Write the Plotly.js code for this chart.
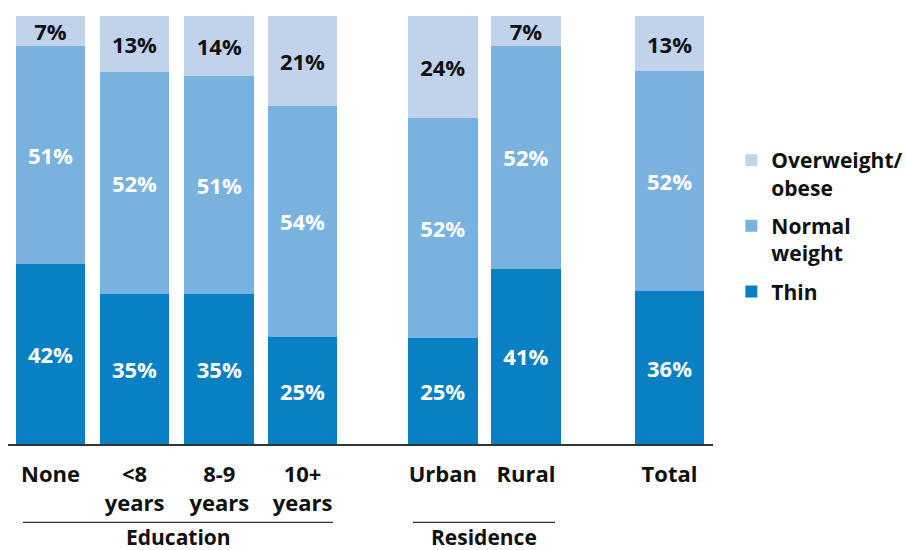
<!DOCTYPE html>
<html>
<head>
<meta charset="utf-8">
<script src="https://cdn.plot.ly/plotly-3.0.1.min.js"></script>
<style>html,body{margin:0;padding:0;background:#fff;}#chart{width:906px;height:550px;}</style>
</head>
<body>
<div id="chart"></div>
<script>
const categories = ['None', '<8<br>years', '8-9<br>years', '10+<br>years', 'Urban', 'Rural', 'Total'];
const xPos = [0, 1, 2.01, 3, 4.67, 5.66, 7.37];
const thin = [42, 35, 35, 25, 25, 41, 36];
const normal = [51, 52, 51, 54, 52, 52, 52];
const overweight = [7, 13, 14, 21, 24, 7, 13];
const seriesNames = ['Thin', 'Normal<br>weight', 'Overweight/<br>obese'];
const groups = ['Education', 'Residence'];

const FONT = 'Open Sans, DejaVu Sans, sans-serif';
const colors = ['#0a80c4', '#79b2de', '#c1d2eb'];
const textColors = ['#ffffff', '#ffffff', '#111111'];
const series = [thin, normal, overweight];

const traces = series.map((vals, i) => ({
  type: 'bar',
  name: seriesNames[i],
  legendgroup: 'g' + i,
  legendrank: 3 - i,
  x: xPos,
  y: vals,
  width: 0.83,
  marker: {color: colors[i], line: {width: 0}},
  text: vals.map(v => v + '%'),
  texttemplate: '%{text}',
  textposition: 'inside',
  insidetextanchor: 'middle',
  textangle: 0,
  textfont: {family: FONT, size: 22, color: textColors[i], weight: 700},
  hoverinfo: 'skip'
}));

const layout = {
  width: 906, height: 550,
  margin: {l: 8, r: 193, t: 16, b: 105.5, autoexpand: false},
  barmode: 'stack',
  barnorm: 'percent',
  uniformtext: {mode: 'show', minsize: 22},
  paper_bgcolor: '#fff', plot_bgcolor: '#fff',
  font: {family: FONT, color: '#111', weight: 700},
  showlegend: true,
  legend: {
    x: 1.026, xanchor: 'left', y: 0.71, yanchor: 'top',
    traceorder: 'grouped',
    tracegroupgap: 8,
    valign: 'top',
    font: {family: FONT, size: 21, color: '#111', weight: 700},
    itemclick: false
  },
  xaxis: {
    range: [-0.506, 7.887],
    tickmode: 'array', tickvals: xPos, ticktext: categories,
    ticks: '', showgrid: false, zeroline: false,
    showline: true, linecolor: '#333', linewidth: 1.5,
    tickfont: {family: FONT, size: 22, color: '#111', weight: 700},
    ticklabelstandoff: 10,
    fixedrange: true
  },
  yaxis: {
    range: [0, 100], visible: false, showgrid: false, zeroline: false, fixedrange: true
  },
  shapes: [
    {type: 'line', xref: 'x', yref: 'paper', x0: -0.327, x1: 3.363, y0: -0.183, y1: -0.183, line: {color: '#333', width: 1.2}},
    {type: 'line', xref: 'x', yref: 'paper', x0: 4.315, x1: 6.006, y0: -0.183, y1: -0.183, line: {color: '#333', width: 1.2}}
  ],
  annotations: [
    {text: groups[0], xref: 'x', yref: 'paper', x: 1.518, y: -0.218, yanchor: 'middle', showarrow: false, font: {family: FONT, size: 21, color: '#111', weight: 700}},
    {text: groups[1], xref: 'x', yref: 'paper', x: 5.16, y: -0.218, yanchor: 'middle', showarrow: false, font: {family: FONT, size: 21, color: '#111', weight: 700}}
  ]
};

Plotly.newPlot('chart', traces, layout, {displayModeBar: false, staticPlot: true});
</script>
</body>
</html>
